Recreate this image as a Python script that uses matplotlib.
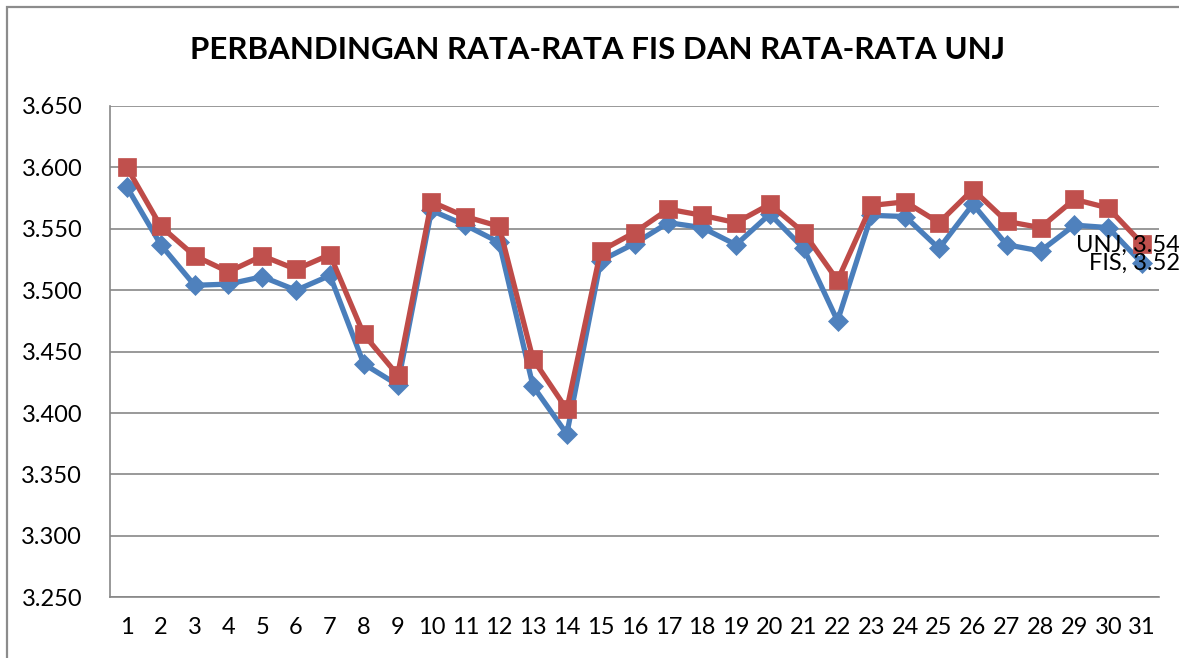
import matplotlib
matplotlib.use("Agg")
import matplotlib.pyplot as plt
from matplotlib.patches import Rectangle
from matplotlib.ticker import FormatStrFormatter

plt.rcParams["font.family"] = ["Lato", "DejaVu Sans"]

# data
days = list(range(1, 32))
fis = [3.584, 3.537, 3.504, 3.505, 3.511, 3.500, 3.512, 3.440, 3.423, 3.565,
       3.553, 3.539, 3.422, 3.383, 3.524, 3.538, 3.555, 3.551, 3.537, 3.562,
       3.534, 3.475, 3.561, 3.560, 3.534, 3.570, 3.537, 3.532, 3.553, 3.551,
       3.522]
unj = [3.600, 3.552, 3.528, 3.515, 3.528, 3.517, 3.529, 3.464, 3.431, 3.572,
       3.560, 3.552, 3.444, 3.403, 3.532, 3.547, 3.566, 3.561, 3.555, 3.570,
       3.547, 3.508, 3.569, 3.572, 3.555, 3.582, 3.556, 3.551, 3.574, 3.567,
       3.538]
y_ticks = [3.25, 3.30, 3.35, 3.40, 3.45, 3.50, 3.55, 3.60, 3.65]

W, H = 1179, 658
BLUE = "#4A7EBB"
RED = "#BE4B48"
GRID = "#878787"

fig = plt.figure(figsize=(W / 100, H / 100), dpi=100)
fig.patch.set_facecolor("white")

# chart-area border (runs off the right and bottom edges)
fig.add_artist(Rectangle((7 / W, -0.1), 1.2, 1 - 6.7 / H + 0.1,
                         transform=fig.transFigure, fill=False,
                         edgecolor="#8c8c8c", lw=1.6, clip_on=False))

left, right, top, bottom = 110, 1159, 106, 597.3
ax = fig.add_axes([left / W, 1 - bottom / H, (right - left) / W,
                   (bottom - top) / H])

ax.plot(days, fis, "-", color=BLUE, lw=3.8, marker="D", ms=10,
        mfc="#4F81BD", mec="#4F81BD", mew=0.5, zorder=3)
ax.plot(days, unj, "-", color=RED, lw=3.8, marker="s", ms=13.5,
        mfc="#C0504D", mec="#C0504D", mew=0.5, zorder=4)

ax.annotate(f"UNJ, {unj[-1]:.2f}", (days[-1], unj[-1]),
            xytext=(27.4, -1.2), textcoords="offset points",
            ha="right", va="center", fontsize=17, zorder=6,
            annotation_clip=False)
ax.annotate(f"FIS, {fis[-1]:.2f}", (days[-1], fis[-1]),
            xytext=(27.4, 0), textcoords="offset points",
            ha="right", va="center", fontsize=17, zorder=6,
            annotation_clip=False)

ax.set_xlim(0.5, 31.5)
ax.set_ylim(3.25, 3.65)
ax.set_xticks(days)
ax.set_yticks(y_ticks)
ax.yaxis.set_major_formatter(FormatStrFormatter("%.3f"))
ax.yaxis.grid(True, color=GRID, lw=1.2)
ax.set_axisbelow(True)
ax.tick_params(axis="both", length=0, labelsize=17)
ax.tick_params(axis="y", pad=20)
ax.tick_params(axis="x", pad=14)

for side in ("top", "right"):
    ax.spines[side].set_visible(False)
ax.spines["left"].set_color(GRID)
ax.spines["left"].set_linewidth(1.2)
ax.spines["bottom"].set_color(GRID)
ax.spines["bottom"].set_linewidth(1.2)

fig.text(597 / W, 1 - 50 / H, "PERBANDINGAN RATA-RATA FIS DAN RATA-RATA UNJ",
         ha="center", va="center", fontsize=22.5, fontweight="bold")

fig.savefig("out.png", dpi=100)
